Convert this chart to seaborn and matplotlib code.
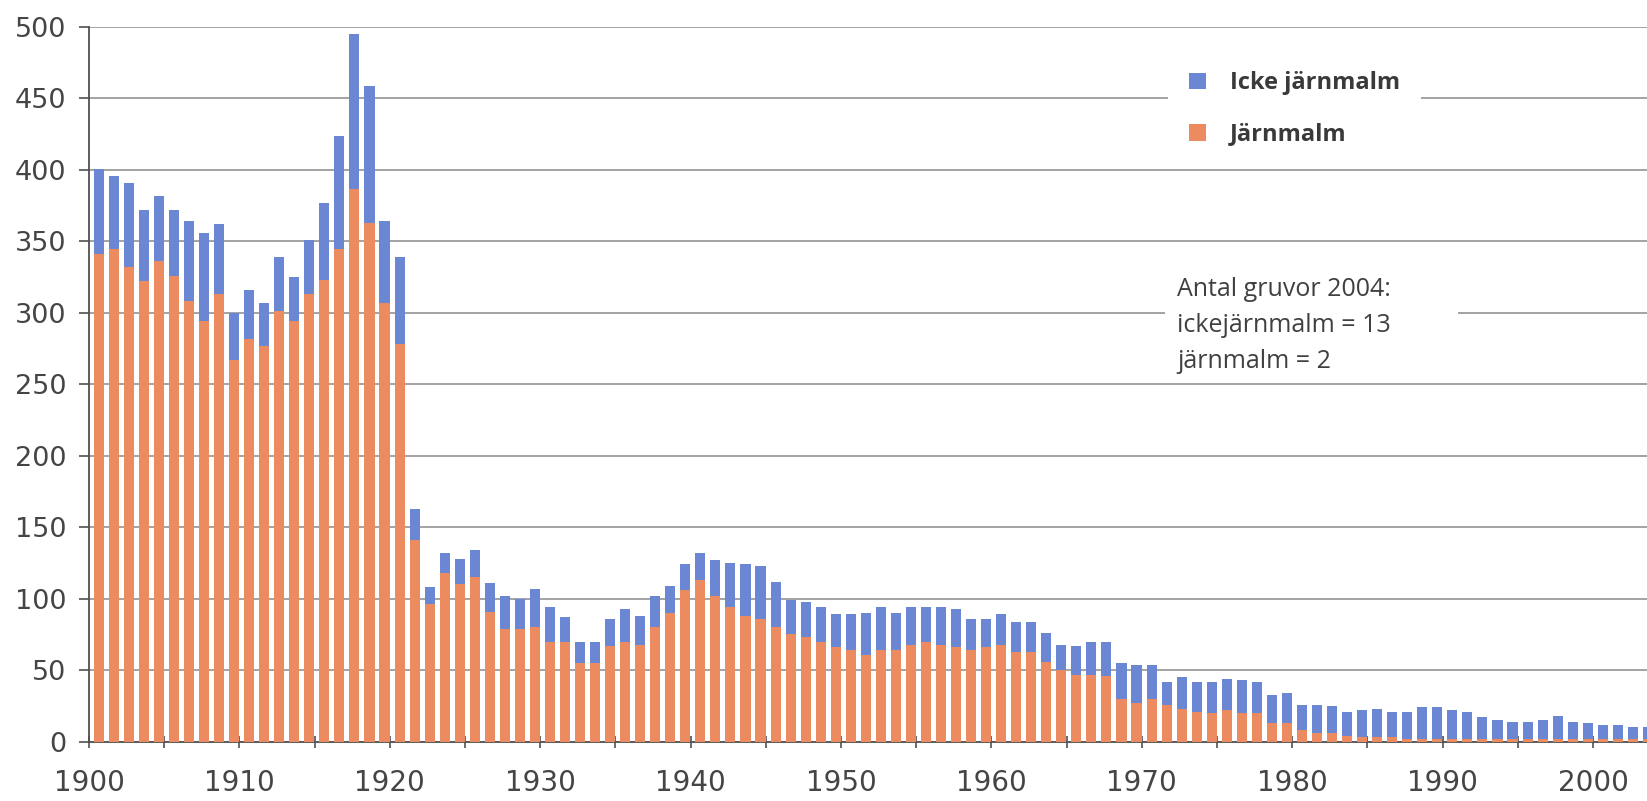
import numpy as np
import pandas as pd
import matplotlib
matplotlib.use("Agg")
import matplotlib.pyplot as plt
import seaborn as sns
from matplotlib.patches import Patch, Rectangle
from matplotlib.ticker import MultipleLocator

years = list(range(1900, 2004))

jarnmalm = [341, 345, 332, 322, 336, 326, 308, 294, 313, 267,
            282, 277, 301, 294, 313, 323, 345, 387, 363, 307,
            278, 141, 96, 118, 110, 115, 91, 79, 79, 80,
            70, 70, 55, 55, 67, 70, 68, 80, 90, 106,
            113, 102, 94, 88, 86, 80, 75, 73, 70, 66,
            64, 61, 64, 64, 68, 70, 68, 66, 64, 66,
            68, 63, 63, 56, 50, 47, 47, 46, 30, 27,
            30, 26, 23, 21, 20, 22, 20, 20, 13, 13,
            8, 6, 6, 4, 3, 3, 3, 2, 2, 2,
            2, 2, 2, 2, 2, 2, 2, 2, 2, 2,
            2, 2, 2, 2]

icke_jarnmalm = [60, 51, 59, 50, 46, 46, 56, 62, 49, 33,
                 34, 30, 38, 31, 38, 54, 79, 108, 96, 57,
                 61, 22, 12, 14, 18, 19, 20, 23, 21, 27,
                 24, 17, 15, 15, 19, 23, 20, 22, 19, 18,
                 19, 25, 31, 36, 37, 32, 24, 25, 24, 23,
                 25, 29, 30, 26, 26, 24, 26, 27, 22, 20,
                 21, 21, 21, 20, 18, 20, 23, 24, 25, 27,
                 24, 16, 22, 21, 22, 22, 23, 22, 20, 21,
                 18, 20, 19, 17, 19, 20, 18, 19, 22, 22,
                 20, 19, 15, 13, 12, 12, 13, 16, 12, 11,
                 10, 10, 8, 8]

y_ticks = [0, 50, 100, 150, 200, 250, 300, 350, 400, 450, 500]
x_tick_labels = [1900, 1910, 1920, 1930, 1940, 1950, 1960, 1970, 1980, 1990, 2000]

legend_labels = ["Icke järnmalm", "Järnmalm"]
note_lines = ["Antal gruvor 2004:", "ickejärnmalm = 13", "järnmalm = 2"]

ORANGE = "#EC8A60"
BLUE = "#6B86D2"

df = pd.DataFrame({"year": years, "iron": jarnmalm, "noniron": icke_jarnmalm})
df["total"] = df["iron"] + df["noniron"]
df["xpos"] = df["year"] + 0.65

sns.set_theme(style="white")
plt.rcParams["font.family"] = ["DejaVu Sans"]

fig = plt.figure(figsize=(16.47, 8.01), dpi=100)
ax = fig.add_axes([89 / 1647, 59.3 / 801, (1647 - 89) / 1647, (774 - 59.3) / 801])

sns.barplot(data=df, x="xpos", y="total", native_scale=True, color=BLUE,
            width=0.67, linewidth=0, saturation=1, ax=ax, zorder=2)
sns.barplot(data=df, x="xpos", y="iron", native_scale=True, color=ORANGE,
            width=0.67, linewidth=0, saturation=1, ax=ax, zorder=3)

ax.set_xlim(1900, 1900 + (1647 - 89) / 15.04)
ax.set_ylim(0, 500)
ax.set_xlabel("")
ax.set_ylabel("")
ax.set_yticks(y_ticks)
ax.set_xticks(x_tick_labels)
ax.set_xticklabels([str(v) for v in x_tick_labels])
ax.xaxis.set_minor_locator(MultipleLocator(5))

ax.grid(axis="y", color="#9c9c9c", linewidth=1.3)
ax.grid(axis="x", visible=False)
ax.set_axisbelow(True)

for s in ["top", "right"]:
    ax.spines[s].set_visible(False)
for s in ["left", "bottom"]:
    ax.spines[s].set_color("#505050")
    ax.spines[s].set_linewidth(1.3)

ax.tick_params(axis="x", which="both", direction="inout", length=9, width=1.2,
               color="#505050", labelsize=20, labelcolor="#454545", pad=15, bottom=True)
ax.tick_params(axis="y", which="major", direction="out", length=7.5, width=1.2,
               color="#505050", labelsize=19.5, labelcolor="#454545", pad=9, left=True)

handles = [Patch(facecolor=BLUE, edgecolor="none"), Patch(facecolor=ORANGE, edgecolor="none")]
leg = ax.legend(handles, legend_labels, loc="upper left",
                bbox_to_anchor=(1168 / 1647, 1 - 50 / 801), bbox_transform=fig.transFigure,
                frameon=True, facecolor="white", edgecolor="none", framealpha=1,
                fancybox=False, borderaxespad=0, borderpad=0.9,
                handlelength=0.72, handleheight=0.72, handletextpad=1.0,
                labelspacing=1.15, prop={"family": "Open Sans", "weight": "bold", "size": 17})
for t in leg.get_texts():
    t.set_color("#3a3a3a")
leg.set_zorder(5)

fig.patches.append(Rectangle((1165 / 1647, 1 - 378 / 801), (1458 - 1165) / 1647, (378 - 272) / 801,
                             transform=fig.transFigure, facecolor="white", edgecolor="none", zorder=2))
for i, line in enumerate(note_lines):
    fig.text(1177 / 1647, 1 - (289 + 36 * i) / 801, line, ha="left", va="center",
             fontsize=18, family="Open Sans", color="#404040", zorder=3)

fig.savefig("out.png", dpi=100)
